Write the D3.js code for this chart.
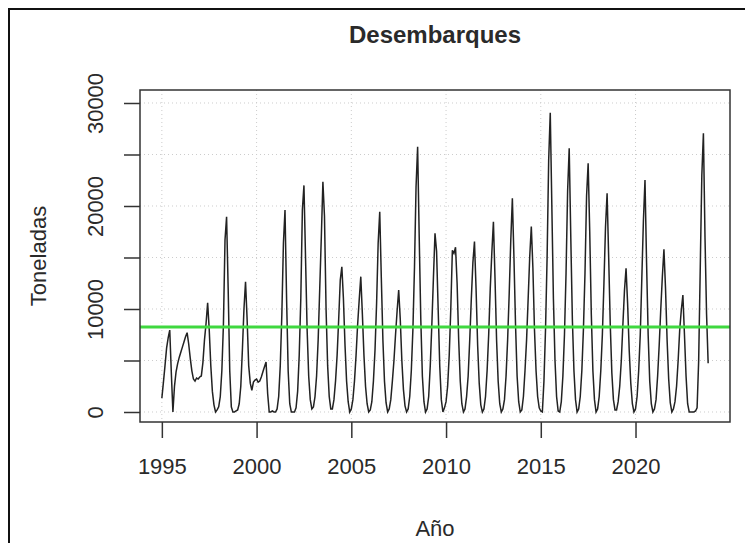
<!DOCTYPE html>
<html>
<head>
<meta charset="utf-8">
<script src="https://cdn.jsdelivr.net/npm/d3@7"></script>
<style>
  body { margin: 0; background: #fff; }
  text { font-family: "Liberation Sans", Arial, sans-serif; fill: #2a2a2a; }
</style>
</head>
<body>
<div class="chart"></div>
<script>
// monthly landings (toneladas), one row per year starting Jan 1995
var startYear = 1995;
var toneladas = [
  1350, 2900, 4500, 6200, 7200, 7950, 3800, 0, 2500, 3900, 4700, 5300,          // 1995
  5800, 6300, 6800, 7300, 7700, 6600, 5200, 4000, 3200, 3000, 3300, 3200,       // 1996
  3400, 3500, 4800, 7000, 8600, 10600, 8000, 4500, 2000, 700, 0, 200,           // 1997
  500, 1500, 4000, 8500, 16700, 18950, 12000, 4000, 500, 0, 0, 100,             // 1998
  200, 800, 2500, 6000, 10000, 12650, 9000, 4500, 2800, 2100, 2900, 3100,       // 1999
  3200, 2900, 3000, 3400, 3900, 4400, 4850, 1800, 0, 0, 100, 0,                 // 2000
  0, 300, 1500, 4500, 9500, 16400, 19600, 11000, 4000, 800, 0, 0,               // 2001
  0, 400, 2000, 5500, 11000, 19600, 22000, 15000, 8000, 3500, 1200, 300,        // 2002
  500, 1500, 3500, 7000, 12000, 17000, 22350, 19000, 10000, 4500, 1500, 300,    // 2003
  300, 1200, 3000, 5500, 9000, 12800, 14100, 11000, 6500, 3000, 1000, 0,        // 2004
  300, 1200, 3000, 5500, 8500, 10900, 13140, 9500, 5500, 2500, 800, 0,          // 2005
  200, 1000, 3000, 6000, 10500, 16400, 19450, 13000, 7000, 3000, 900, 0,        // 2006
  300, 1200, 3000, 5000, 7500, 9800, 11850, 9000, 5000, 2200, 600, 0,           // 2007
  300, 1500, 4000, 8000, 14000, 21900, 25760, 17000, 9000, 3500, 1000, 0,       // 2008
  300, 1500, 4500, 8500, 13000, 17350, 15600, 10000, 4500, 1200, 0, 400,        // 2009
  1000, 2500, 5500, 10000, 15700, 15400, 16000, 12500, 7000, 3000, 800, 0,      // 2010
  300, 1500, 3500, 7000, 11000, 14500, 16540, 12000, 6500, 2800, 700, 0,        // 2011
  300, 1500, 4000, 7500, 12000, 15500, 18470, 13000, 7000, 3000, 800, 0,        // 2012
  300, 1200, 3500, 7000, 11500, 16700, 20740, 15000, 8500, 3500, 1000, 0,       // 2013
  200, 1500, 4000, 7000, 11000, 15100, 18000, 14000, 8000, 4000, 1500, 400,     // 2014
  100, 0, 3000, 8000, 15000, 24500, 29060, 20000, 11000, 5000, 1500, 100,       // 2015
  0, 1000, 3500, 7500, 13500, 21500, 25600, 17000, 9000, 4000, 1200, 0,         // 2016
  300, 1500, 4000, 8000, 13500, 21000, 24140, 17500, 9500, 4000, 1200, 0,       // 2017
  300, 1500, 4000, 7500, 12500, 18000, 21230, 15000, 8500, 3800, 1200, 200,     // 2018
  200, 1000, 2500, 5000, 8500, 11800, 13950, 10500, 6000, 2800, 800, 0,         // 2019
  300, 1500, 4000, 7500, 13000, 18600, 22520, 14500, 7500, 3000, 800, 0,        // 2020
  300, 1200, 3500, 6500, 10000, 13150, 15790, 12000, 7000, 3200, 900, 0,        // 2021
  300, 1000, 2500, 5000, 8000, 9900, 11360, 7500, 3500, 800, 0, 0,              // 2022
  0, 0, 100, 400, 5000, 14000, 23000, 27050, 17000, 9500, 4730                  // 2023
];
var xTicks = [1995, 2000, 2005, 2010, 2015, 2020];
var yTicks = [0, 5000, 10000, 15000, 20000, 25000, 30000];
var yLabels = [0, 10000, 20000, 30000];
var lineaVerde = 8250;

var svgWidth = 745, svgHeight = 543;
var margin = { top: 90, right: 15, bottom: 121, left: 140 };
var width = svgWidth - margin.left - margin.right;
var height = svgHeight - margin.top - margin.bottom;

var svg = d3.select(".chart").append("svg")
  .attr("width", svgWidth)
  .attr("height", svgHeight);

// outer frame of the screenshot
svg.append("rect")
  .attr("x", 9).attr("y", 9)
  .attr("width", 800).attr("height", 600)
  .attr("fill", "none").attr("stroke", "#111").attr("stroke-width", 2);

var chartGroup = svg.append("g")
  .attr("transform", `translate(${margin.left}, ${margin.top})`);

var data = toneladas.map((v, i) => ({ t: startYear + i / 12, v: v }));

// R style 4% padding on x
var tMin = d3.min(data, d => d.t), tMax = d3.max(data, d => d.t);
var pad = (tMax - tMin) * 0.04;
var xScale = d3.scaleLinear().domain([tMin - pad, tMax + pad]).range([0, width]);
var yScale = d3.scaleLinear().domain([-971, 31262]).range([height, 0]);

// dotted grid
chartGroup.append("g").selectAll("line")
  .data(xTicks).enter().append("line")
  .attr("x1", d => xScale(d)).attr("x2", d => xScale(d))
  .attr("y1", 0).attr("y2", height)
  .attr("stroke", "#cccccc").attr("stroke-dasharray", "1,3");
chartGroup.append("g").selectAll("line")
  .data(yTicks).enter().append("line")
  .attr("x1", 0).attr("x2", width)
  .attr("y1", d => yScale(d)).attr("y2", d => yScale(d))
  .attr("stroke", "#cccccc").attr("stroke-dasharray", "1,3");

// series
var line = d3.line().x(d => xScale(d.t)).y(d => yScale(d.v));
chartGroup.append("path")
  .datum(data)
  .attr("d", line)
  .attr("fill", "none")
  .attr("stroke", "#222")
  .attr("stroke-width", 1.5);

// green reference line
chartGroup.append("line")
  .attr("x1", 0).attr("x2", width)
  .attr("y1", yScale(lineaVerde)).attr("y2", yScale(lineaVerde))
  .attr("stroke", "#3fd83f").attr("stroke-width", 3);

// box
chartGroup.append("rect")
  .attr("width", width).attr("height", height)
  .attr("fill", "none").attr("stroke", "#333").attr("stroke-width", 1.5);

// axes
var xAxis = d3.axisBottom(xScale).tickValues(xTicks).tickFormat(d3.format("d"))
  .tickSize(16).tickPadding(20);
var gx = chartGroup.append("g")
  .attr("transform", `translate(0, ${height})`)
  .call(xAxis);
gx.select(".domain").remove();
gx.selectAll("line").attr("stroke", "#333").attr("stroke-width", 1.5);
gx.selectAll("text").style("font-size", "22px").attr("fill", "#2a2a2a");

var yAxis = d3.axisLeft(yScale).tickValues(yTicks)
  .tickFormat(d => yLabels.includes(d) ? d : "").tickSize(16);
var gy = chartGroup.append("g").call(yAxis);
gy.select(".domain").remove();
gy.selectAll("line").attr("stroke", "#333").attr("stroke-width", 1.5);
gy.selectAll("text")
  .style("font-size", "22px").attr("fill", "#2a2a2a")
  .attr("text-anchor", "middle")
  .attr("x", 0).attr("dy", null).attr("y", 0)
  .attr("transform", "translate(-45,0) rotate(-90)")
  .attr("dominant-baseline", "central");

// titles
svg.append("text")
  .attr("x", margin.left + width / 2).attr("y", 43)
  .attr("text-anchor", "middle")
  .style("font-size", "24px").style("font-weight", "bold")
  .text("Desembarques");

svg.append("text")
  .attr("x", margin.left + width / 2).attr("y", 536)
  .attr("text-anchor", "middle")
  .style("font-size", "22px")
  .text("Año");

svg.append("text")
  .attr("transform", `translate(46, ${margin.top + height / 2}) rotate(-90)`)
  .attr("text-anchor", "middle")
  .style("font-size", "22px")
  .text("Toneladas");
</script>
</body>
</html>
